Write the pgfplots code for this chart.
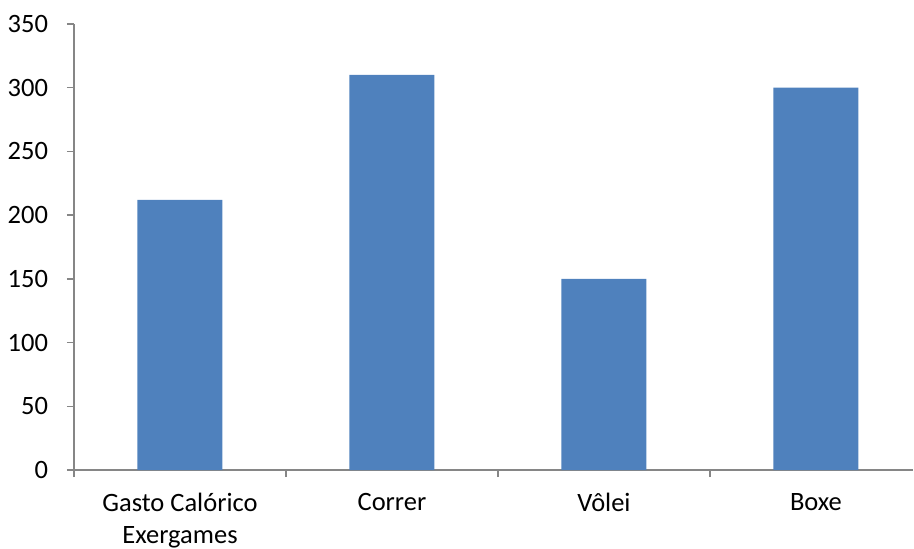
\documentclass[border=0pt]{standalone}
\usepackage{pgfplots}
\pgfplotsset{compat=1.18}
\usepackage{fontspec}
\setmainfont{Carlito}
\definecolor{barblue}{HTML}{4F81BD}
\definecolor{axgray}{HTML}{868686}
\begin{document}
\fontsize{26.6}{32}\selectfont
\begin{tikzpicture}
\path[use as bounding box] (-74bp,-79bp) rectangle (840bp,470bp);
\begin{axis}[
  scale only axis,
  width=839bp, height=446bp,
  anchor=south west, at={(0,0)},
  xmin=-0.5, xmax=3.458,
  ymin=0, ymax=350,
  ytick={0,50,100,150,200,250,300,350},
  xtick={0,1,2,3},
  xticklabels={{Gasto Calórico\\Exergames},Correr,Vôlei,Boxe},
  xticklabel style={align=center, font=\fontsize{26.6}{32}\selectfont, yshift=-7bp},
  yticklabel style={font=\fontsize{26.6}{32}\selectfont, xshift=-10bp},
  /pgf/number format/assume math mode=true,
  minor xtick={-0.5,0.5,1.5,2.5},
  axis x line=bottom, axis y line=left,
  axis line style={draw=axgray, line width=1.3bp, -},
  major x tick style={draw=none},
  minor x tick style={draw=axgray, line width=1.3bp},
  ytick style={draw=axgray, line width=1.3bp},
  tick align=outside,
  major tick length=7bp, minor tick length=7bp,
  ybar, bar width=85bp,
  clip=false,
]
\addplot[fill=barblue, draw=none] coordinates {(0,212) (1,310) (2,150) (3,300)};
\end{axis}
\end{tikzpicture}
\end{document}
